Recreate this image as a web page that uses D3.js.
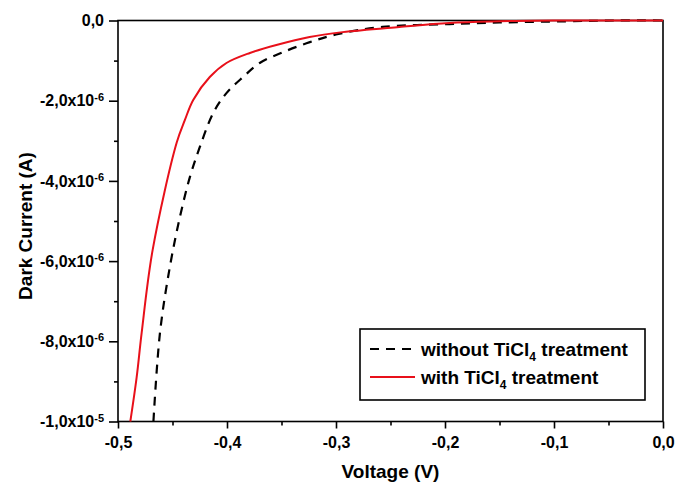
<!DOCTYPE html>
<html>
<head>
<meta charset="utf-8">
<script src="https://cdn.jsdelivr.net/npm/d3@7"></script>
<style>
  body { margin: 0; background: #fff; }
  svg { display: block; font-family: "Liberation Sans", Arial, sans-serif; font-weight: bold; }
</style>
</head>
<body>
<svg id="chart" width="675" height="483"></svg>
<script>
// Dark current vs voltage
const voltWithout = [-0.4675, -0.4615, -0.4524, -0.4432, -0.434, -0.425, -0.4127, -0.4005, -0.3853, -0.37, -0.3486, -0.324, -0.30, -0.2573, -0.196, -0.15, -0.089, -0.043, 0];
const currWithout = [-1.0e-5, -7.79e-6, -6.14e-6, -4.90e-6, -3.90e-6, -3.16e-6, -2.31e-6, -1.81e-6, -1.41e-6, -1.06e-6, -0.79e-6, -0.54e-6, -0.35e-6, -0.16e-6, -0.09e-6, -0.05e-6, -0.02e-6, 0, 0];

const voltWith = [-0.4887, -0.4829, -0.4783, -0.4682, -0.4462, -0.4386, -0.431, -0.4158, -0.4005, -0.379, -0.3547, -0.3242, -0.294, -0.242, -0.196, -0.15, -0.1, 0];
const currWith = [-1.0e-5, -8.9e-6, -7.79e-6, -5.72e-6, -3.05e-6, -2.48e-6, -1.98e-6, -1.41e-6, -1.06e-6, -0.81e-6, -0.61e-6, -0.41e-6, -0.29e-6, -0.16e-6, -0.06e-6, -0.02e-6, 0, 0];

const xTicks = [-0.5, -0.4, -0.3, -0.2, -0.1, 0];
const xMinorTicks = [-0.45, -0.35, -0.25, -0.15, -0.05];
const yTicks = [0, -2e-6, -4e-6, -6e-6, -8e-6, -1e-5];
const yMinorTicks = [-1e-6, -3e-6, -5e-6, -7e-6, -9e-6];
const yTickMant = ["0,0", "-2,0x10", "-4,0x10", "-6,0x10", "-8,0x10", "-1,0x10"];
const yTickExp = ["", "-6", "-6", "-6", "-6", "-5"];

const legendLabels = ["without TiCl", "with TiCl"];
const legendColors = ["#000", "#e8101a"];
const legendDash = ["9,7", null];

const svg = d3.select("#chart");
const plot = { left: 118, right: 663, top: 20.5, bottom: 421.5 };

const x = d3.scaleLinear().domain([-0.5, 0]).range([plot.left, plot.right]);
const y = d3.scaleLinear().domain([-1e-5, 0]).range([plot.bottom, plot.top]);

// minor ticks first
svg.append("g")
    .attr("transform", `translate(0,${plot.bottom})`)
    .call(d3.axisBottom(x).tickValues(xMinorTicks).tickSize(4).tickFormat(""))
    .call(g => g.select(".domain").remove());
svg.append("g")
    .attr("transform", `translate(${plot.left},0)`)
    .call(d3.axisLeft(y).tickValues(yMinorTicks).tickSize(4).tickFormat(""))
    .call(g => g.select(".domain").remove());

// major x axis
const xAxis = svg.append("g")
    .attr("transform", `translate(0,${plot.bottom})`)
    .call(d3.axisBottom(x).tickValues(xTicks).tickSize(7).tickPadding(8)
        .tickFormat(d => d3.format(".1f")(d).replace(".", ",").replace("−", "-")));
xAxis.select(".domain").remove();
xAxis.selectAll("text")
    .attr("fill", "#000")
    .style("font-size", "16px")
    .style("font-weight", "bold");

// major y axis with superscript exponents
const yAxis = svg.append("g")
    .attr("transform", `translate(${plot.left},0)`)
    .call(d3.axisLeft(y).tickValues(yTicks).tickSize(9).tickPadding(5).tickFormat(""));
yAxis.select(".domain").remove();
yAxis.selectAll(".tick text").each(function(d, i) {
    const t = d3.select(this)
        .attr("fill", "#000")
        .style("font-size", "16px")
        .style("font-weight", "bold");
    t.append("tspan").text(yTickMant[i]);
    if (yTickExp[i]) {
        t.append("tspan")
            .attr("dy", "-0.5em")
            .style("font-size", "11px")
            .text(yTickExp[i]);
    }
});
svg.selectAll(".tick line").attr("stroke", "#000").attr("stroke-width", 1.6);

// frame
svg.append("rect")
    .attr("x", plot.left).attr("y", plot.top)
    .attr("width", plot.right - plot.left).attr("height", plot.bottom - plot.top)
    .attr("fill", "none").attr("stroke", "#000").attr("stroke-width", 1.6);

// curves
const line = d3.line()
    .x(d => x(d[0]))
    .y(d => y(d[1]))
    .curve(d3.curveCatmullRom.alpha(0.5));

svg.append("path")
    .datum(d3.zip(voltWithout, currWithout))
    .attr("fill", "none")
    .attr("stroke", legendColors[0])
    .attr("stroke-width", 2.2)
    .attr("stroke-dasharray", legendDash[0])
    .attr("d", line);

svg.append("path")
    .datum(d3.zip(voltWith, currWith))
    .attr("fill", "none")
    .attr("stroke", legendColors[1])
    .attr("stroke-width", 2)
    .attr("d", line);

// axis titles
svg.append("text")
    .attr("x", (plot.left + plot.right) / 2)
    .attr("y", 478)
    .attr("text-anchor", "middle")
    .style("font-size", "19px")
    .text("Voltage (V)");

svg.append("text")
    .attr("transform", "translate(32,226) rotate(-90)")
    .attr("text-anchor", "middle")
    .style("font-size", "19px")
    .text("Dark Current (A)");

// legend
const legend = svg.append("g");
legend.append("rect")
    .attr("x", 360).attr("y", 329)
    .attr("width", 285).attr("height", 71)
    .attr("fill", "#fff").attr("stroke", "#000").attr("stroke-width", 1.6);

legendLabels.forEach((lab, i) => {
    const ly = 349 + i * 28;
    legend.append("line")
        .attr("x1", 370).attr("x2", 415)
        .attr("y1", ly).attr("y2", ly)
        .attr("stroke", legendColors[i])
        .attr("stroke-width", 2.2)
        .attr("stroke-dasharray", legendDash[i]);
    const t = legend.append("text")
        .attr("x", 421).attr("y", ly + 7)
        .style("font-size", "19px");
    t.append("tspan").text(lab);
    t.append("tspan").attr("dy", 5).style("font-size", "12px").text("4");
    t.append("tspan").attr("dy", -5).text(" treatment");
});
</script>
</body>
</html>
